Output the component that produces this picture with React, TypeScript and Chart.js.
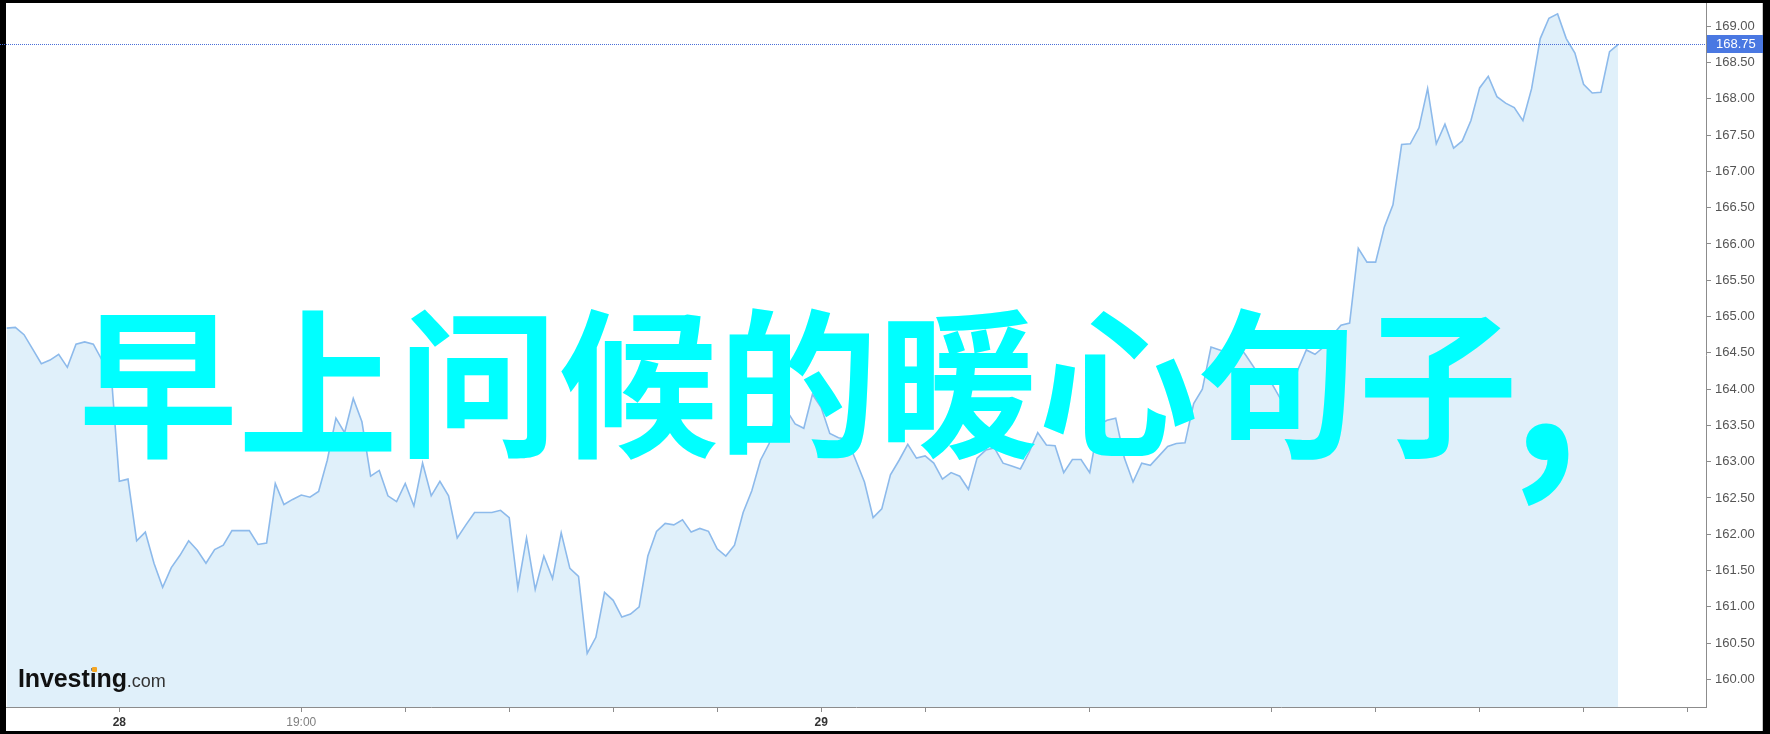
import React, { useEffect, useRef } from "react";
import { Chart, registerables } from "chart.js";

Chart.register(...registerables);

// 5-minute closing prices
const PRICES: number[] = [
  164.84, 164.85, 164.75, 164.55, 164.35, 164.40, 164.48, 164.30, 164.62, 164.65,
  164.62, 164.40, 164.31, 162.73, 162.76, 161.91, 162.03, 161.60, 161.27, 161.54,
  161.71, 161.91, 161.78, 161.60, 161.79, 161.85, 162.05, 162.05, 162.05, 161.86,
  161.88, 162.70, 162.41, 162.48, 162.54, 162.51, 162.59, 163.02, 163.60, 163.40,
  163.87, 163.55, 162.80, 162.88, 162.53, 162.45, 162.70, 162.39, 162.98, 162.53,
  162.73, 162.53, 161.95, 162.13, 162.30, 162.30, 162.30, 162.33, 162.23, 161.26,
  161.95, 161.24, 161.70, 161.39, 162.02, 161.53, 161.42, 160.36, 160.58, 161.20,
  161.09, 160.86, 160.90, 161.00, 161.70, 162.04, 162.15, 162.13, 162.20, 162.03,
  162.08, 162.04, 161.80, 161.70, 161.85, 162.30, 162.60, 163.02, 163.25, 163.82,
  163.71, 163.52, 163.46, 163.93, 163.75, 163.39, 163.33, 163.31, 163.02, 162.72,
  162.23, 162.35, 162.82, 163.02, 163.24, 163.05, 163.08, 162.98, 162.76, 162.85,
  162.80, 162.62, 163.05, 163.16, 163.19, 162.98, 162.94, 162.90, 163.13, 163.40,
  163.23, 163.22, 162.85, 163.03, 163.03, 162.85, 163.50, 163.57, 163.60, 163.05,
  162.72, 162.98, 162.95, 163.08, 163.21, 163.25, 163.26, 163.80, 164.00, 164.58,
  164.54, 164.50, 164.63, 164.47, 164.29, 164.18, 164.08, 163.87, 163.79, 164.26,
  164.54, 164.48, 164.58, 164.74, 164.88, 164.91, 165.94, 165.75, 165.75, 166.23,
  166.54, 167.37, 167.38, 167.60, 168.14, 167.38, 167.65, 167.32, 167.42, 167.70,
  168.15, 168.31, 168.03, 167.94, 167.88, 167.70, 168.14, 168.83, 169.11, 169.17,
  168.83, 168.63, 168.20, 168.08, 168.09, 168.65, 168.75,
];

// x-axis ticks (bar index) and their labels
const X_TICK_INDEX: number[] = [13, 34, 46, 58, 70, 82, 94, 106, 125, 146, 158, 170, 182, 194];
const X_TICK_LABELS: string[] = ["28", "19:00", "", "", "", "", "29", "", "", "", "", "", "", ""];
const DAY_LABELS: string[] = ["28", "29"];

// y-axis tick values
const Y_TICKS: number[] = [
  160.0, 160.5, 161.0, 161.5, 162.0, 162.5, 163.0, 163.5, 164.0,
  164.5, 165.0, 165.5, 166.0, 166.5, 167.0, 167.5, 168.0, 168.5, 169.0,
];
const Y_MIN = 159.62;
const Y_MAX = 169.32;
const X_MIN = -0.08;
const X_MAX = 196.13;

const LAST_PRICE = 168.75;
const WATERMARK_WORDS = "早上问候的暖心句子";
const WATERMARK_PUNCT = ",";

const lastPricePlugin = {
  id: "lastPrice",
  afterDatasetsDraw(chart: any) {
    const { ctx, chartArea, scales } = chart;
    const y = Math.round(scales.y.getPixelForValue(LAST_PRICE)) + 0.5;
    ctx.save();
    ctx.strokeStyle = "#4a6fd8";
    ctx.lineWidth = 1;
    ctx.setLineDash([1, 1]);
    ctx.beginPath();
    ctx.moveTo(0, y);
    ctx.lineTo(chartArea.right, y);
    ctx.stroke();
    ctx.setLineDash([]);
    ctx.fillStyle = "#4a78e2";
    ctx.fillRect(chartArea.right + 1, y - 9.5, 56, 18);
    ctx.fillStyle = "#ffffff";
    ctx.font = "13px 'Liberation Sans', Arial, sans-serif";
    ctx.textBaseline = "middle";
    ctx.textAlign = "left";
    ctx.fillText(LAST_PRICE.toFixed(2), chartArea.right + 10, y);
    ctx.restore();
  },
};

function PriceChart() {
  const ref = useRef<HTMLCanvasElement | null>(null);
  useEffect(() => {
    if (!ref.current) return;
    const chart = new Chart(ref.current, {
      type: "line",
      data: {
        datasets: [
          {
            data: PRICES.map((v, i) => ({ x: i, y: v })),
            borderColor: "#8dbaeb",
            borderWidth: 1.6,
            backgroundColor: "#e0f0fa",
            fill: "start",
            pointRadius: 0,
            tension: 0,
          },
        ],
      },
      options: {
        animation: false,
        responsive: false,
        maintainAspectRatio: false,
        events: [],
        layout: { padding: { left: 6, top: 3, right: 8, bottom: 3 } },
        plugins: { legend: { display: false }, tooltip: { enabled: false } },
        scales: {
          x: {
            type: "linear",
            min: X_MIN,
            max: X_MAX,
            afterBuildTicks(scale: any) {
              scale.ticks = X_TICK_INDEX.map((v) => ({ value: v }));
            },
            afterFit(scale: any) {
              scale.height = 24;
              scale.paddingLeft = 0;
              scale.paddingRight = 0;
            },
            grid: { drawOnChartArea: false, drawTicks: true, tickLength: 5, color: "#8c8c8c" },
            border: { display: true, color: "#8c8c8c", width: 1 },
            ticks: {
              autoSkip: false,
              maxRotation: 0,
              padding: 3,
              callback(value: any) {
                const k = X_TICK_INDEX.indexOf(Number(value));
                return k >= 0 ? X_TICK_LABELS[k] : "";
              },
              color(c: any) {
                return DAY_LABELS.includes(c.tick && c.tick.label) ? "#333333" : "#808080";
              },
              font(c: any) {
                const bold = DAY_LABELS.includes(c.tick && c.tick.label);
                return { family: "'Liberation Sans', Arial, sans-serif", size: 12, weight: bold ? "bold" : "normal" };
              },
            },
          },
          y: {
            type: "linear",
            position: "right",
            min: Y_MIN,
            max: Y_MAX,
            afterBuildTicks(scale: any) {
              scale.ticks = Y_TICKS.map((v) => ({ value: v }));
            },
            afterFit(scale: any) {
              scale.width = 56;
              scale.paddingTop = 0;
              scale.paddingBottom = 0;
            },
            grid: { drawOnChartArea: false, drawTicks: true, tickLength: 5, color: "#8c8c8c" },
            border: { display: true, color: "#8c8c8c", width: 1 },
            ticks: {
              padding: 4,
              color: "#555555",
              font: { family: "'Liberation Sans', Arial, sans-serif", size: 13 },
              callback(value: any) {
                return Number(value).toFixed(2);
              },
            },
          },
        },
      },
      plugins: [lastPricePlugin],
    });
    return () => chart.destroy();
  }, []);
  return (
    <canvas
      ref={ref}
      width={1770}
      height={734}
      style={{ position: "absolute", left: 0, top: 0, width: 1770, height: 734 }}
    />
  );
}

export default function App() {
  return (
    <div style={{ position: "absolute", left: 0, top: 0, width: 1770, height: 734, background: "#000", overflow: "hidden" }}>
      <div style={{ position: "absolute", left: 6, top: 3, width: 1756, height: 728, background: "#fff", borderRight: "1px solid #c8c8c8" }} />
      <PriceChart />
      <div
        style={{
          position: "absolute",
          left: 18,
          top: 666,
          lineHeight: "25px",
          whiteSpace: "nowrap",
          fontFamily: "'Liberation Sans', Arial, sans-serif",
        }}
      >
        <span style={{ fontSize: 25, fontWeight: 700, color: "#111", letterSpacing: "-0.1px" }}>Investing</span>
        <span style={{ fontSize: 18, color: "#333" }}>.com</span>
      </div>
      <div style={{ position: "absolute", left: 92, top: 667, width: 5, height: 5, background: "#f5a623", borderRadius: 1 }} />
      <div
        style={{
          position: "absolute",
          left: 78,
          top: 295,
          fontSize: 160,
          lineHeight: "160px",
          fontWeight: 700,
          color: "#00ffff",
          whiteSpace: "nowrap",
          fontFamily: "'Noto Sans CJK SC', sans-serif",
        }}
      >
        {WATERMARK_WORDS}
        <span style={{ fontSize: 210, lineHeight: 0, position: "relative", top: 16, left: -7 }}>{WATERMARK_PUNCT}</span>
      </div>
    </div>
  );
}
